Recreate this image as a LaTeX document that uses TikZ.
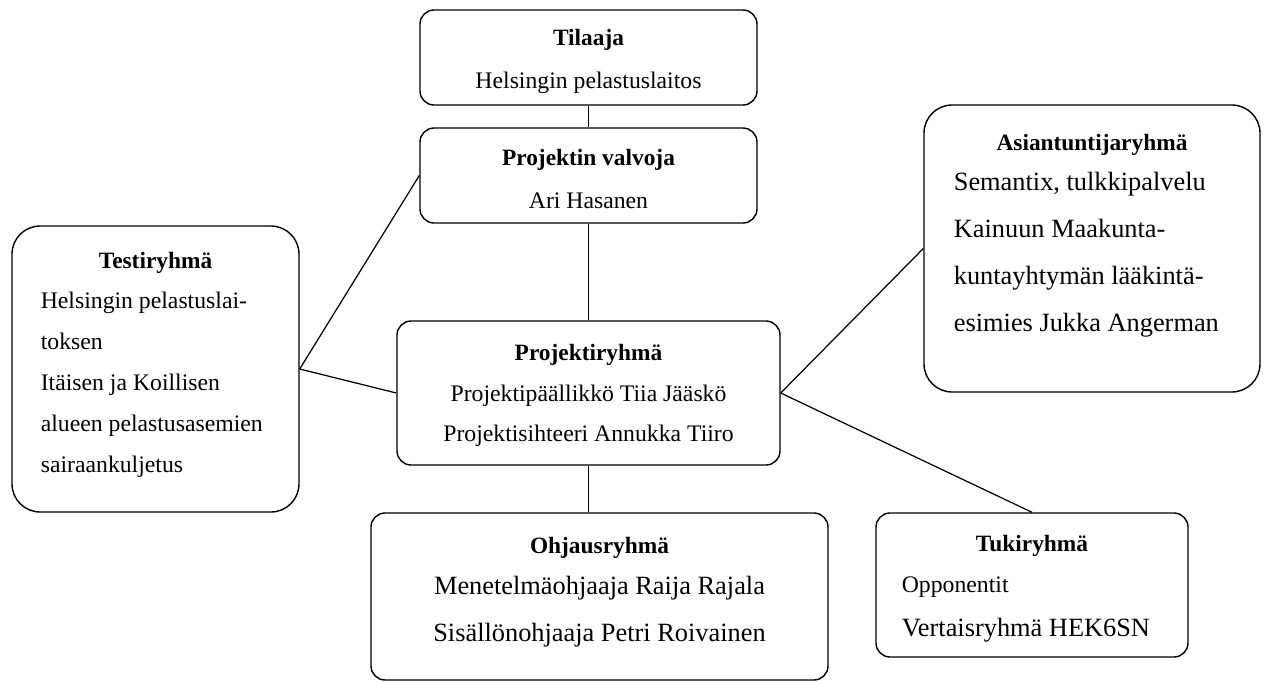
\documentclass[tikz,border=0pt]{standalone}
\usepackage{fontspec}
\setmainfont{Liberation Serif}
\usetikzlibrary{positioning}
\newcommand{\hdfont}{\fontsize{13.3pt}{23pt}\selectfont\bfseries}
\newcommand{\smfont}{\fontsize{13.5pt}{23.3pt}\selectfont}
\newcommand{\bgfont}{\fontsize{15pt}{26.6pt}\selectfont}
% box text: height, width, top gap, title, body
\newcommand{\grpbox}[5]{\parbox[c][#1][t]{#2}{\vspace*{#3}\centering{\hdfont #4\par}#5}}
\tikzset{
  grp/.style={rectangle, rounded corners=8pt, draw, line width=0.8pt, inner sep=0pt},
  wide/.style={grp, rounded corners=16pt},
  link/.style={line width=0.7pt}
}
\begin{document}
\begin{tikzpicture}[x=0.2mm, y={(0,-0.2mm)}]
\useasboundingbox (0,0) rectangle (1267,682);
\node[grp] (til) at (588.5,57.5) {\grpbox{19mm}{67.4mm}{10.8pt}{Tilaaja}{\vspace{1.6pt}\smfont Helsingin pelastuslaitos\par}};
\node[grp] (val) at (588.5,175.5) {\grpbox{19mm}{67.4mm}{11.9pt}{Projektin valvoja}{\vspace{1.6pt}\smfont Ari Hasanen\par}};
\node[wide] (tes) at (155.5,369) {\grpbox{57.2mm}{57.4mm}{14.7pt}{Testiryhmä}{\raggedright\leftskip=16.4pt\smfont
  Helsingin pelastuslai-\\toksen\\Itäisen ja Koillisen\\alueen pelastusasemien\\sairaankuljetus\par}};
\node[grp] (pr) at (588.5,393) {\grpbox{28.8mm}{76.6mm}{13pt}{Projektiryhmä}{\smfont
  Projektipäällikkö Tiia Jääskö\\Projektisihteeri Annukka Tiiro\par}};
\node[wide] (asi) at (1092,248.5) {\grpbox{57.4mm}{67.2mm}{16.4pt}{Asiantuntijaryhmä}{\raggedright\leftskip=17pt\bgfont\vspace{-3.4pt}
  Semantix, tulkkipalvelu\\Kainuun Maakunta-\\kuntayhtymän lääkintä-\\esimies Jukka Angerman\par}};
\node[grp] (ohj) at (599.5,596.5) {\grpbox{33.4mm}{91.4mm}{13.6pt}{Ohjausryhmä}{\bgfont\vspace{-3pt}
  Menetelmäohjaaja Raija Rajala\\Sisällönohjaaja Petri Roivainen\par}};
\node[grp] (tuk) at (1032,585) {\grpbox{28.8mm}{62.4mm}{12.5pt}{Tukiryhmä}{\raggedright\leftskip=14.7pt
  {\smfont Opponentit\par}\vspace{-1.6pt}{\bgfont Vertaisryhmä HEK6SN\par}}};
\draw[link] (til)--(val); \draw[link] (val)--(pr);
\draw[link] (tes.east)--(val.west); \draw[link] (tes.east)--(pr.west);
\draw[link] (pr.east)--(asi.west); \draw[link] (pr.east)--(tuk.north);
\draw[link] (pr.south)--(pr.south |- ohj.north);
\end{tikzpicture}
\end{document}
